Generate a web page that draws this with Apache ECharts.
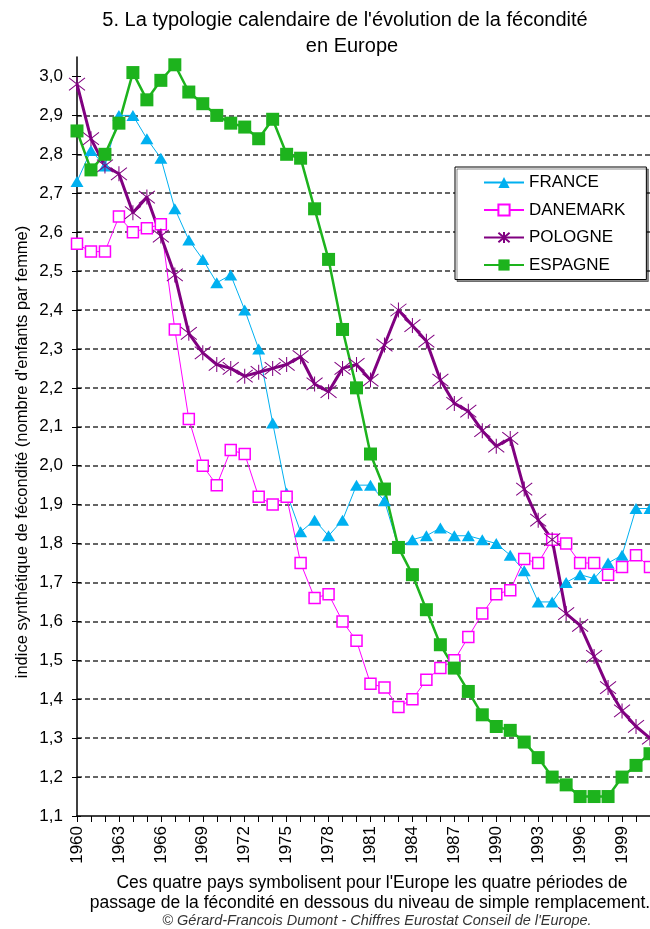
<!DOCTYPE html>
<html><head><meta charset="utf-8">
<script src="https://cdn.jsdelivr.net/npm/echarts@6/dist/echarts.min.js"></script>
<style>html,body{margin:0;padding:0;background:#fff}#c{width:650px;height:929px}</style>
</head><body><div id="c"></div>
<script>
const years = ['1960','1961','1962','1963','1964','1965','1966','1967','1968','1969',
  '1970','1971','1972','1973','1974','1975','1976','1977','1978','1979',
  '1980','1981','1982','1983','1984','1985','1986','1987','1988','1989',
  '1990','1991','1992','1993','1994','1995','1996','1997','1998','1999',
  '2000','2001'];
const france = [2.73,2.81,2.77,2.90,2.90,2.84,2.79,2.66,2.58,2.53,
  2.47,2.49,2.40,2.30,2.11,1.93,1.83,1.86,1.82,1.86,
  1.95,1.95,1.91,1.79,1.81,1.82,1.84,1.82,1.82,1.81,
  1.80,1.77,1.73,1.65,1.65,1.70,1.72,1.71,1.75,1.77,
  1.89,1.89];
const danemark = [2.57,2.55,2.55,2.64,2.60,2.61,2.62,2.35,2.12,2.00,
  1.95,2.04,2.03,1.92,1.90,1.92,1.75,1.66,1.67,1.60,
  1.55,1.44,1.43,1.38,1.40,1.45,1.48,1.50,1.56,1.62,
  1.67,1.68,1.76,1.75,1.81,1.80,1.75,1.75,1.72,1.74,
  1.77,1.74];
const pologne = [2.98,2.84,2.77,2.75,2.65,2.69,2.59,2.49,2.34,2.29,
  2.26,2.25,2.23,2.24,2.25,2.26,2.28,2.21,2.19,2.25,
  2.26,2.22,2.31,2.40,2.36,2.32,2.22,2.16,2.14,2.09,
  2.05,2.07,1.94,1.86,1.81,1.62,1.59,1.51,1.43,1.37,
  1.33,1.30];
const espagne = [2.86,2.76,2.80,2.88,3.01,2.94,2.99,3.03,2.96,2.93,
  2.90,2.88,2.87,2.84,2.89,2.80,2.79,2.66,2.53,2.35,
  2.20,2.03,1.94,1.79,1.72,1.63,1.54,1.48,1.42,1.36,
  1.33,1.32,1.29,1.25,1.20,1.18,1.15,1.15,1.15,1.20,
  1.23,1.26];
const yTickValues = [1.1,1.2,1.3,1.4,1.5,1.6,1.7,1.8,1.9,2.0,2.1,2.2,2.3,2.4,2.5,2.6,2.7,2.8,2.9,3.0];
const seriesNames = ['FRANCE','DANEMARK','POLOGNE','ESPAGNE'];
const titleLines = ["5. La typologie calendaire de l'évolution de la fécondité", "en Europe"];
const yAxisName = "indice synthétique de fécondité (nombre d'enfants par femme)";
const footLines = ["Ces quatre pays symbolisent pour l'Europe les quatre périodes de",
  "passage de la fécondité en dessous du niveau de simple remplacement."];
const copyright = "© Gérard-Francois Dumont - Chiffres Eurostat Conseil de l'Europe.";

const FONT = '"Liberation Sans", Arial, sans-serif';
const chart = echarts.init(document.getElementById('c'), null, {renderer: 'canvas'});

const asterisk = 'path://M0,1L12,11M0,11L12,1M6,0L6,12';

function txt(text, x, y, size, extra) {
  return {
    type: 'text', x: x, y: y, z: 100,
    style: Object.assign({text: text, fontSize: size, fontFamily: FONT, fill: '#000',
      align: 'center', verticalAlign: 'middle'}, extra || {})
  };
}

const option = {
  animation: false,
  backgroundColor: '#fff',
  grid: {left: 77, right: 0, top: 57, bottom: 113, containLabel: false},
  xAxis: {
    type: 'category', data: years, boundaryGap: false,
    axisLine: {show: true, onZero: false, lineStyle: {color: '#000', width: 1.5}},
    axisTick: {show: true, interval: 0, length: 6, lineStyle: {color: '#000', width: 1}},
    axisLabel: {interval: 2, rotate: 90, fontSize: 17, color: '#000', margin: 10, fontFamily: FONT},
    splitLine: {show: false}
  },
  yAxis: [{
    type: 'value', min: 1.1, max: 3.05, interval: 0.1, position: 'left',
    axisLine: {show: true, onZero: false, lineStyle: {color: '#000', width: 1.5}},
    axisTick: {show: true, length: 5, customValues: yTickValues, lineStyle: {color: '#000', width: 1}},
    axisLabel: {customValues: yTickValues, fontSize: 17, color: '#000', margin: 14, fontFamily: FONT,
      formatter: function (v) { return v.toFixed(1).replace('.', ','); }},
    splitLine: {show: true, showMinLine: false, showMaxLine: false,
      lineStyle: {color: '#333', width: 1.5, type: [5, 3]}}
  }, {
    type: 'value', min: 1.1, max: 3.05, interval: 0.1, position: 'left', offset: 0,
    axisLine: {show: false},
    axisTick: {show: true, inside: true, length: 4, customValues: yTickValues, lineStyle: {color: '#000', width: 1}},
    axisLabel: {show: false},
    splitLine: {show: false}
  }],
  legend: {
    orient: 'vertical', left: 455, top: 167, data: seriesNames,
    itemWidth: 40, itemHeight: 14, itemGap: 10.5,
    padding: [7, 21, 6, 28],
    backgroundColor: '#fff', borderColor: '#000', borderWidth: 1,
    shadowColor: 'rgba(0,0,0,0.45)', shadowOffsetX: 2, shadowOffsetY: 2, shadowBlur: 0,
    textStyle: {fontSize: 17, color: '#000', fontFamily: FONT},
    selectedMode: false
  },
  series: [{
    name: seriesNames[0], type: 'line', data: france, color: '#00B0F0',
    showAllSymbol: true, symbol: 'triangle', symbolSize: [13, 11],
    lineStyle: {width: 1, color: '#00B0F0'}, itemStyle: {color: '#00B0F0', borderWidth: 0}
  }, {
    name: seriesNames[1], type: 'line', data: danemark, color: '#FF00FF',
    showAllSymbol: true, symbol: 'rect', symbolSize: 11,
    lineStyle: {width: 1, color: '#FF00FF'},
    itemStyle: {color: '#fff', borderColor: '#FF00FF', borderWidth: 1.5}
  }, {
    name: seriesNames[2], type: 'line', data: pologne, color: '#800080',
    showAllSymbol: true, symbol: asterisk, symbolSize: [16, 15],
    lineStyle: {width: 3, color: '#800080'},
    itemStyle: {color: '#800080', borderColor: '#800080', borderWidth: 1}
  }, {
    name: seriesNames[3], type: 'line', data: espagne, color: '#1DB31D',
    showAllSymbol: true, symbol: 'rect', symbolSize: 13,
    lineStyle: {width: 2.5, color: '#1DB31D'},
    itemStyle: {color: '#1DB31D', borderWidth: 0}
  }],
  graphic: [
    txt(titleLines[0], 345, 20, 20),
    txt(titleLines[1], 352, 46, 20),
    Object.assign(txt(yAxisName, 22, 452, 16.5), {rotation: Math.PI / 2}),
    txt(footLines[0], 372, 883, 17.5),
    txt(footLines[1], 370, 903, 17.5),
    txt(copyright, 377, 921, 14.5, {fontStyle: 'italic', fill: '#333'})
  ]
};
chart.setOption(option);
</script></body></html>
